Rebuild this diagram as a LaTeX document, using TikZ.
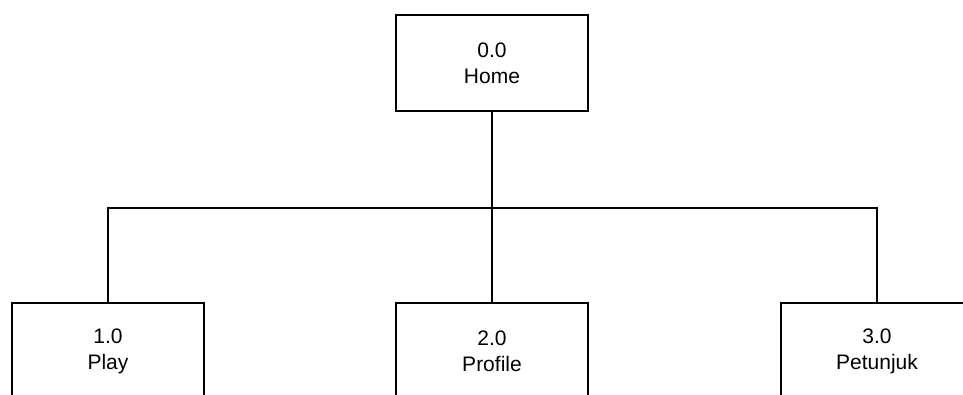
\documentclass[tikz,border=0pt]{standalone}
\usepackage{fontspec}
\setmainfont{Liberation Sans}
\begin{document}
\begin{tikzpicture}[x=1pt,y=-1pt,
  box/.style={draw=black,line width=2.2pt,minimum width=192pt,minimum height=96pt,inner sep=0pt,align=center,font=\fontsize{21}{26}\selectfont,fill=white},
  conn/.style={draw=black,line width=2.2pt}]
\useasboundingbox (0,0) rectangle (963,394);
\clip (0,0) rectangle (963,394);
\node[box] (home) at (492,63) {0.0\\Home};
\node[box] (play) at (108,351) {1.0\\Play};
\node[box] (profile) at (492,351) {2.0\\Profile};
\node[box] (pet) at (877,351) {3.0\\Petunjuk};
\coordinate (bus) at (492,208);
\draw[conn] (home.south) -- (bus);
\draw[conn] (bus) -- (profile.north);
\draw[conn] (play.north) |- (bus) -| (pet.north);
\end{tikzpicture}
\end{document}
